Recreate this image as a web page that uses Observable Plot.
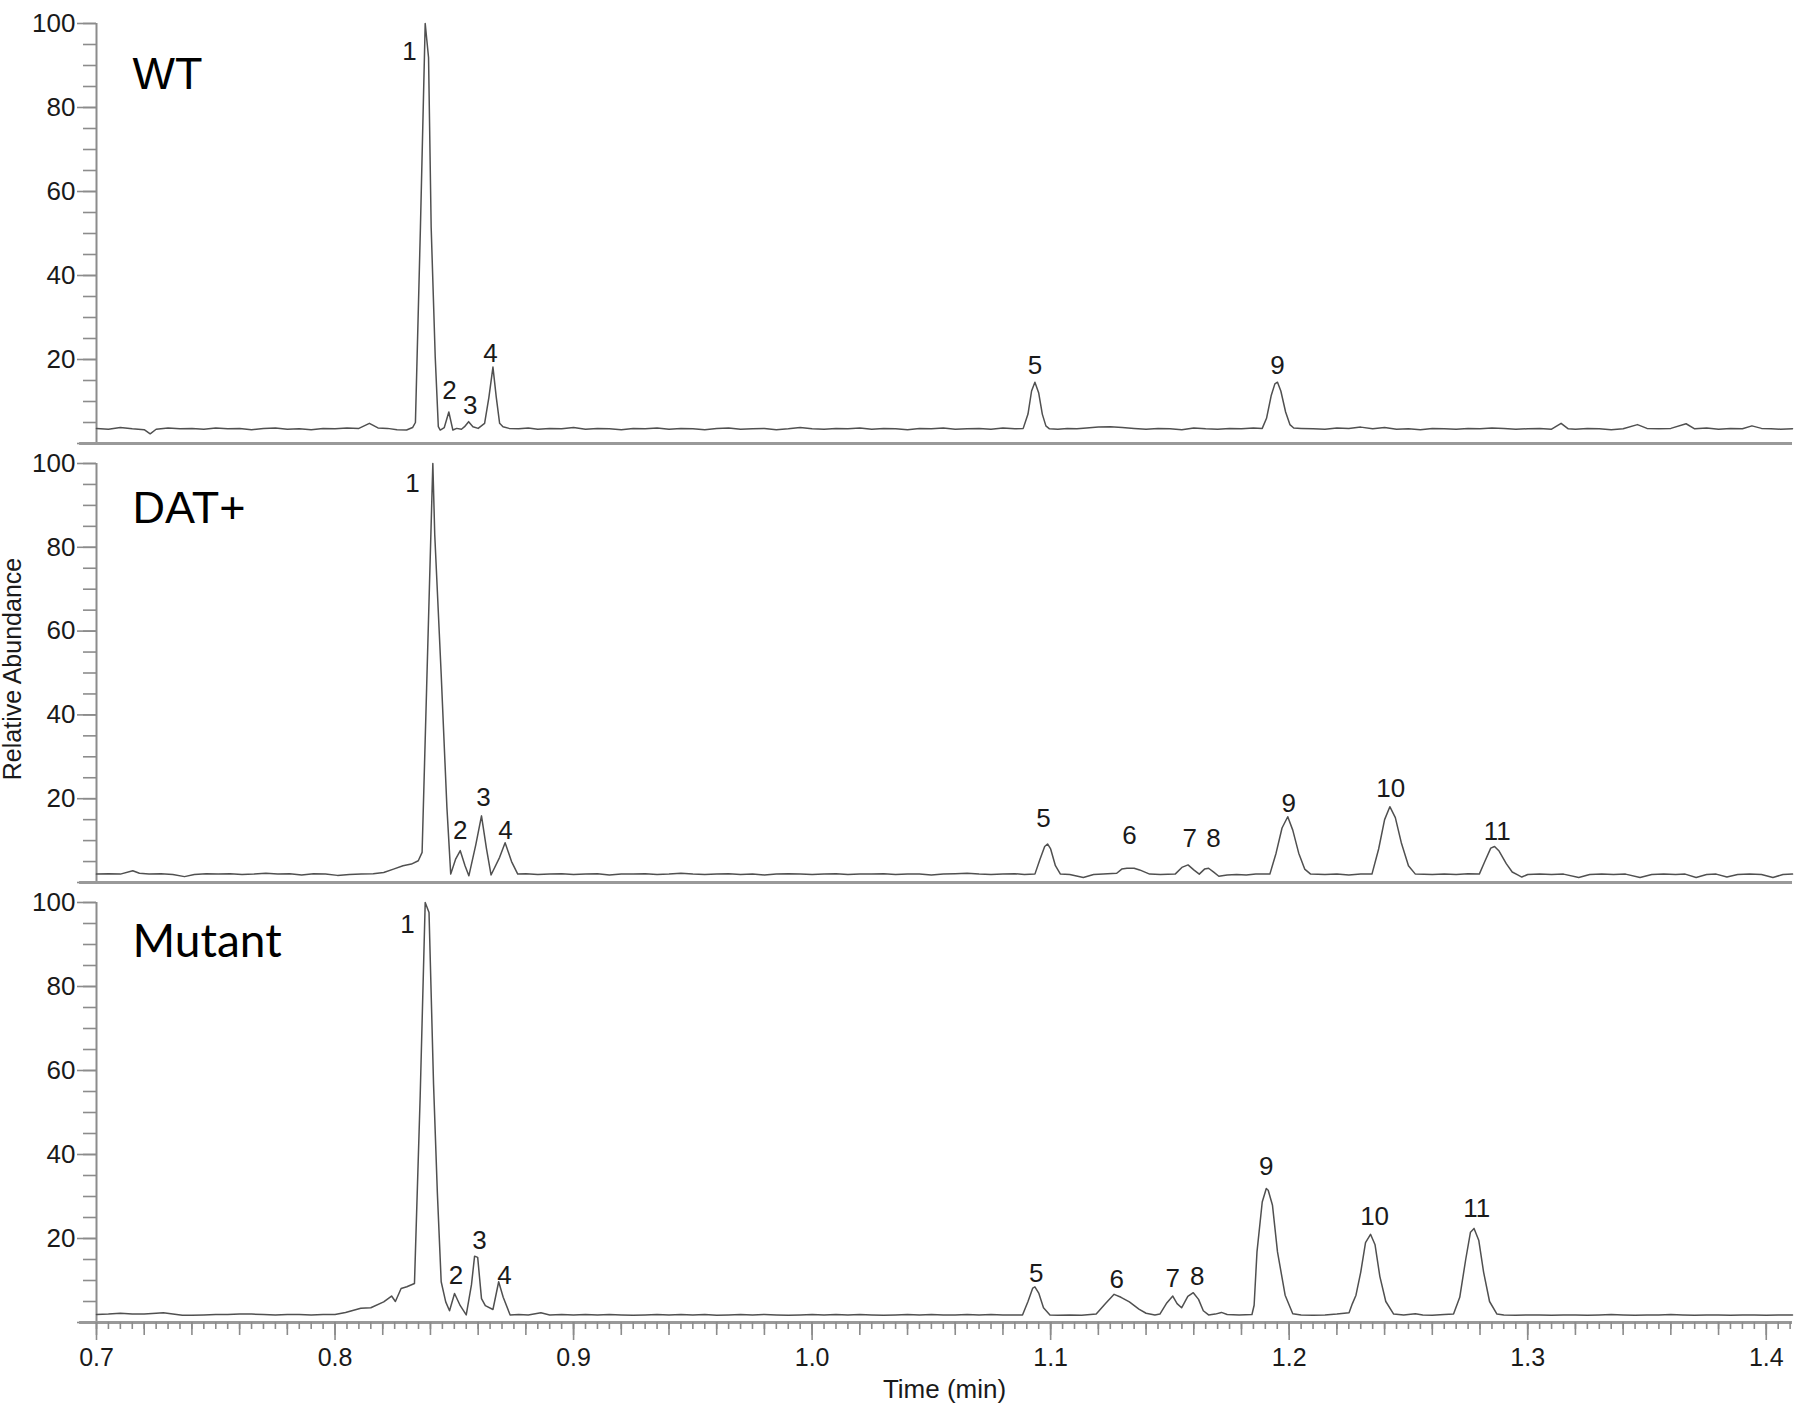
<!DOCTYPE html>
<html><head><meta charset="utf-8">
<script src="https://cdn.jsdelivr.net/npm/d3@7"></script>
<script src="https://cdn.jsdelivr.net/npm/@observablehq/plot@0.6"></script>
<style>
body{margin:0;background:#fff;}
#fig{position:relative;width:1800px;height:1413px;background:#fff;}
#fig svg{position:absolute;left:0;}
</style></head><body><div id="fig"></div>
<script>
// ---- Data: [time (min), relative abundance] ----
const wtTrace = [
[0.700,3.6],[0.705,3.4],[0.710,3.8],[0.715,3.5],[0.720,3.3],[0.7225,2.3],[0.725,3.4],[0.730,3.7],[0.735,3.5],[0.740,3.6],
[0.745,3.4],[0.750,3.7],[0.755,3.5],[0.760,3.6],[0.765,3.3],[0.770,3.6],[0.775,3.7],[0.780,3.4],[0.785,3.5],[0.790,3.3],
[0.795,3.6],[0.800,3.5],[0.805,3.7],[0.810,3.6],[0.8144,4.8],[0.818,3.7],[0.822,3.6],[0.826,3.3],[0.830,3.2],[0.8325,3.8],
[0.8337,5.0],[0.8358,51.5],[0.8378,100],[0.8392,91.9],[0.8403,51.5],[0.8420,20.6],[0.8433,4.0],[0.8441,3.2],[0.8458,3.8],
[0.8477,7.5],[0.8494,3.2],[0.8510,3.6],[0.8530,3.4],[0.8543,4.0],[0.8560,5.2],[0.8578,4.0],[0.8600,3.6],[0.8627,4.8],
[0.8645,11],[0.8662,18.2],[0.8676,11],[0.8690,4.8],[0.8704,4.0],[0.873,3.6],[0.877,3.5],[0.881,3.7],[0.885,3.4],[0.890,3.6],
[0.895,3.5],[0.900,3.8],[0.905,3.4],[0.910,3.6],[0.915,3.5],[0.920,3.3],[0.925,3.6],[0.930,3.5],[0.935,3.7],[0.940,3.4],
[0.945,3.6],[0.950,3.5],[0.955,3.3],[0.960,3.6],[0.965,3.7],[0.970,3.4],[0.975,3.5],[0.980,3.6],[0.985,3.3],[0.990,3.5],
[0.995,3.8],[1.000,3.5],[1.005,3.4],[1.010,3.6],[1.015,3.5],[1.020,3.7],[1.025,3.4],[1.030,3.6],[1.035,3.5],[1.040,3.3],
[1.045,3.6],[1.050,3.5],[1.055,3.7],[1.060,3.4],[1.065,3.5],[1.070,3.6],[1.075,3.4],[1.080,3.7],[1.085,3.5],[1.0885,3.6],
[1.0905,7],[1.0920,12.5],[1.0934,14.6],[1.0950,12],[1.0965,7],[1.0980,4.2],[1.0995,3.5],[1.103,3.4],[1.107,3.6],[1.111,3.5],
[1.115,3.7],[1.120,3.9],[1.125,4.0],[1.130,3.8],[1.135,3.6],[1.140,3.4],[1.145,3.6],[1.150,3.5],[1.155,3.3],[1.160,3.7],
[1.165,3.5],[1.170,3.4],[1.175,3.6],[1.180,3.5],[1.185,3.7],[1.1887,3.6],[1.1905,6],[1.1925,11.5],[1.1940,14.2],[1.1951,14.6],
[1.1965,12.5],[1.1985,7.5],[1.2003,4.5],[1.2019,3.7],[1.205,3.6],[1.210,3.5],[1.215,3.4],[1.220,3.7],[1.225,3.6],[1.230,3.9],
[1.235,3.5],[1.240,3.8],[1.245,3.4],[1.250,3.5],[1.255,3.3],[1.260,3.6],[1.265,3.5],[1.270,3.4],[1.275,3.6],[1.280,3.5],
[1.285,3.7],[1.290,3.6],[1.295,3.4],[1.300,3.5],[1.305,3.6],[1.310,3.4],[1.314,4.8],[1.317,3.5],[1.320,3.4],[1.325,3.6],
[1.330,3.5],[1.335,3.3],[1.340,3.5],[1.346,4.5],[1.350,3.6],[1.355,3.5],[1.360,3.6],[1.3664,4.7],[1.370,3.5],[1.375,3.7],
[1.380,3.4],[1.385,3.6],[1.390,3.5],[1.394,4.2],[1.398,3.6],[1.402,3.5],[1.406,3.4],[1.411,3.5]
];
const datTrace = [
[0.700,2.0],[0.705,2.1],[0.710,2.0],[0.7152,2.8],[0.718,2.2],[0.722,2.0],[0.727,2.1],[0.732,1.9],[0.7369,1.4],[0.741,1.9],
[0.746,2.1],[0.751,2.0],[0.756,2.1],[0.761,1.9],[0.766,2.0],[0.771,2.2],[0.776,2.0],[0.781,2.1],[0.786,1.8],[0.791,2.1],
[0.796,2.0],[0.801,1.7],[0.806,1.9],[0.811,2.0],[0.816,2.1],[0.8204,2.4],[0.8245,3.2],[0.8285,4.0],[0.832,4.4],[0.8349,5.2],
[0.8365,7.2],[0.8384,46.5],[0.8410,100],[0.8418,83],[0.8445,49.7],[0.8469,17.9],[0.8485,2.0],[0.8505,5.5],[0.8525,7.6],
[0.8545,4.0],[0.8561,1.6],[0.8590,9],[0.8614,15.9],[0.8635,8],[0.8654,1.8],[0.8690,6],[0.8713,9.5],[0.8740,5],[0.8766,2.0],
[0.880,2.1],[0.885,1.9],[0.890,2.0],[0.895,2.1],[0.900,1.9],[0.905,2.0],[0.910,2.1],[0.915,1.8],[0.920,2.0],[0.925,2.0],
[0.930,2.1],[0.935,1.9],[0.940,2.0],[0.945,2.2],[0.950,2.0],[0.955,1.9],[0.960,2.0],[0.965,2.1],[0.970,1.9],[0.975,2.0],
[0.980,1.8],[0.985,2.0],[0.990,2.1],[0.995,2.0],[1.000,1.9],[1.005,2.0],[1.010,2.1],[1.015,1.9],[1.020,2.0],[1.025,2.0],
[1.030,2.1],[1.035,1.9],[1.040,2.0],[1.045,2.0],[1.050,1.8],[1.055,2.0],[1.060,2.1],[1.065,2.2],[1.070,2.0],[1.075,1.9],
[1.080,2.0],[1.085,2.1],[1.089,1.9],[1.0934,2.0],[1.0955,5.5],[1.0975,8.6],[1.0987,9.2],[1.1000,8],[1.1020,4],[1.1041,2.0],
[1.108,1.9],[1.1137,1.2],[1.118,1.9],[1.122,2.0],[1.1277,2.2],[1.1298,3.2],[1.1320,3.4],[1.1350,3.4],[1.1373,3.0],[1.1415,2.0],
[1.146,1.9],[1.1522,2.0],[1.1550,3.6],[1.1576,4.2],[1.1600,3.0],[1.1623,2.0],[1.1645,3.2],[1.1662,3.4],[1.1685,2.4],[1.1705,1.5],
[1.174,1.8],[1.178,1.9],[1.182,1.8],[1.186,2.0],[1.1919,2.0],[1.1945,7],[1.1970,13],[1.1994,15.7],[1.2015,12.5],[1.2040,7],
[1.2065,3.2],[1.2090,2.0],[1.215,1.9],[1.220,2.0],[1.225,1.8],[1.230,2.0],[1.2347,2.0],[1.2375,8],[1.2400,15],[1.2422,18.1],
[1.2445,15.5],[1.2470,9.5],[1.2500,4],[1.2529,2.0],[1.260,1.9],[1.265,2.0],[1.270,1.9],[1.275,2.1],[1.2797,2.0],[1.2820,5],
[1.2845,8.2],[1.2861,8.6],[1.2880,7.5],[1.2910,4.5],[1.2935,2.5],[1.2958,1.8],[1.2975,1.3],[1.300,1.9],[1.305,2.0],[1.310,1.9],
[1.315,2.0],[1.3214,1.2],[1.326,1.9],[1.331,2.0],[1.336,1.9],[1.341,2.0],[1.3471,1.2],[1.352,1.9],[1.357,2.0],[1.362,1.9],
[1.366,2.0],[1.3706,1.2],[1.375,1.9],[1.379,2.0],[1.3835,1.3],[1.388,1.9],[1.393,2.0],[1.398,1.9],[1.4028,1.2],[1.407,1.9],[1.411,2.0]
];
const mutTrace = [
[0.700,1.9],[0.705,2.0],[0.710,2.2],[0.715,2.0],[0.720,2.0],[0.725,2.2],[0.728,2.3],[0.732,2.0],[0.736,1.7],[0.740,1.7],
[0.745,1.8],[0.750,1.9],[0.755,1.9],[0.760,2.0],[0.765,2.0],[0.770,1.9],[0.775,1.8],[0.780,1.9],[0.785,1.9],[0.790,1.8],
[0.795,1.9],[0.800,1.9],[0.8044,2.4],[0.8108,3.4],[0.815,3.5],[0.8204,4.9],[0.8237,6.3],[0.8253,5.0],[0.8277,8.1],[0.8301,8.5],
[0.8333,9.3],[0.8357,54],[0.8378,100],[0.8394,97.6],[0.8413,56.7],[0.8429,30.8],[0.8445,9.7],[0.8464,4.9],[0.8480,2.8],
[0.8501,6.9],[0.8525,4.0],[0.8550,1.8],[0.8572,9],[0.8585,15.8],[0.8598,15.5],[0.8614,5.7],[0.8630,4.0],[0.8662,3.1],
[0.8686,9.7],[0.8705,6],[0.8734,1.8],[0.877,1.9],[0.881,1.8],[0.8863,2.3],[0.890,1.8],[0.895,1.9],[0.900,1.8],[0.905,1.9],
[0.910,1.8],[0.915,1.9],[0.920,1.8],[0.925,1.7],[0.930,1.8],[0.935,1.9],[0.940,1.8],[0.945,1.9],[0.950,1.8],[0.955,1.9],
[0.960,1.7],[0.965,1.8],[0.970,1.9],[0.975,1.8],[0.980,1.9],[0.985,1.8],[0.990,1.7],[0.995,1.8],[1.000,1.9],[1.005,1.8],
[1.010,1.9],[1.015,1.8],[1.020,1.9],[1.025,1.8],[1.030,1.7],[1.035,1.8],[1.040,1.9],[1.045,1.8],[1.050,1.9],[1.055,1.8],
[1.060,1.8],[1.065,1.9],[1.070,1.8],[1.075,1.9],[1.080,1.8],[1.0882,1.8],[1.0905,5],[1.0925,8.2],[1.0934,8.5],[1.0950,7],
[1.0970,3.5],[1.0997,1.8],[1.103,1.7],[1.108,1.8],[1.113,1.7],[1.1191,2.0],[1.1230,4.5],[1.1266,6.7],[1.1295,6.0],[1.1330,4.9],
[1.1370,3.2],[1.1400,2.2],[1.1437,1.8],[1.1458,2.0],[1.1485,4.5],[1.1512,6.3],[1.1530,4.5],[1.1549,3.5],[1.1575,6.2],[1.1598,7.1],
[1.1620,5.5],[1.1640,2.8],[1.1662,1.8],[1.1690,2.0],[1.1716,2.4],[1.1740,1.9],[1.1790,1.8],[1.1844,1.9],[1.1853,4.1],[1.1865,16.8],
[1.1887,28.7],[1.1904,31.9],[1.1912,31.5],[1.1930,27.9],[1.1951,16.8],[1.1983,6.5],[1.2015,2.1],[1.205,1.8],[1.210,1.7],
[1.215,1.8],[1.220,2.0],[1.2251,2.3],[1.2265,4.5],[1.2280,6.5],[1.2300,12],[1.2320,19],[1.2341,21],[1.2360,18.5],[1.2380,11],
[1.2405,5],[1.2438,2.0],[1.2480,1.8],[1.2529,2.1],[1.2560,1.8],[1.260,1.7],[1.265,1.9],[1.2689,2.0],[1.2715,6],[1.2740,15],
[1.2760,21.5],[1.2775,22.4],[1.2795,19.5],[1.2815,12],[1.2840,5],[1.2871,2.0],[1.290,1.8],[1.295,1.7],[1.300,1.8],[1.305,1.8],
[1.310,1.7],[1.315,1.8],[1.320,1.8],[1.325,1.7],[1.330,1.8],[1.335,1.9],[1.340,1.8],[1.345,1.7],[1.350,1.8],[1.355,1.8],
[1.360,1.9],[1.365,1.8],[1.370,1.7],[1.375,1.8],[1.380,1.8],[1.385,1.7],[1.390,1.8],[1.395,1.8],[1.400,1.7],[1.405,1.8],[1.411,1.8]
];

// ---- Peak annotations: label, time, abundance of label centre ----
const wtPeaks = [
{label:"1",t:0.8312,v:93.2},{label:"2",t:0.8480,v:12.6},{label:"3",t:0.8567,v:9.0},{label:"4",t:0.8652,v:21.4},
{label:"5",t:1.0934,v:18.6},{label:"9",t:1.1951,v:18.6}
];
const datPeaks = [
{label:"1",t:0.8325,v:95.2},{label:"2",t:0.8525,v:12.4},{label:"3",t:0.8622,v:20.2},{label:"4",t:0.8715,v:12.4},
{label:"5",t:1.0970,v:15.2},{label:"6",t:1.1330,v:11.2},{label:"7",t:1.1583,v:10.4},{label:"8",t:1.1683,v:10.4},
{label:"9",t:1.1998,v:18.9},{label:"10",t:1.2426,v:22.4},{label:"11",t:1.2872,v:12.2}
];
const mutPeaks = [
{label:"1",t:0.8304,v:94.7},{label:"2",t:0.8507,v:11.2},{label:"3",t:0.8606,v:19.6},{label:"4",t:0.8710,v:11.2},
{label:"5",t:1.0940,v:11.7},{label:"6",t:1.1277,v:10.1},{label:"7",t:1.1512,v:10.5},{label:"8",t:1.1615,v:10.9},
{label:"9",t:1.1904,v:37.1},{label:"10",t:1.2358,v:25.2},{label:"11",t:1.2786,v:27.1}
];

const panelNames = ["WT","DAT+","Mutant"];
const yMajorTicks = [0,20,40,60,80,100];
const yMinorTicks = d3.range(0, 21).map(i => i * 5);
const xMajorTicks = [0.7,0.8,0.9,1.0,1.1,1.2,1.3,1.4];
const xMediumTicks = d3.range(35, 71).map(i => i / 50);
const xMinorTicks = d3.range(140, 283).map(i => i / 200);
const xDomain = [0.7, 1.411];
const yLabel = "Relative Abundance";
const xLabel = "Time (min)";

const FONT = "'Liberation Sans', Arial, Helvetica, sans-serif";
const axisGray = "#8c8c8c";
const textColor = "#1a1a1a";

function makePanel(cfg) {
  const marks = [
    Plot.axisY(yMinorTicks, {tickSize: 13, fill: "none", stroke: axisGray, strokeWidth: 1.6, label: null}),
    Plot.axisY(yMajorTicks, {tickSize: 19, tickPadding: 2, fontSize: 26, stroke: axisGray, strokeWidth: 1.6,
      fill: textColor, tickFormat: d => d === 0 ? "" : String(d), label: null}),
    Plot.ruleX([xDomain[0]], {y1: 0, y2: 100, stroke: axisGray, strokeWidth: 2}),
    Plot.ruleY([0], {x1: xDomain[0] - 0.0071, x2: xDomain[1], stroke: "#999", strokeWidth: 3.2, clip: false}),
    Plot.line(cfg.trace, {x: d => d[0], y: d => d[1], stroke: "#505050", strokeWidth: 1.5, strokeLinejoin: "round"}),
    Plot.text(cfg.peaks, {x: "t", y: "v", text: "label", fontSize: 26, fill: textColor, textAnchor: "middle", lineAnchor: "middle"}),
    Plot.text([cfg.name], {x: () => 0.7151, y: () => cfg.nameV, text: d => d, fontSize: cfg.nameSize,
      fontFamily: cfg.nameFont, fill: "#000", textAnchor: "start", lineAnchor: "bottom"})
  ];
  if (cfg.yTitle) {
    marks.push(Plot.text([yLabel], {frameAnchor: "left", text: d => d, rotate: -90, dx: -76, dy: -4,
      lineAnchor: "bottom", textAnchor: "middle", fontSize: 25, fill: textColor}));
  }
  if (cfg.xAxis) {
    marks.push(
      Plot.axisX(xMinorTicks, {anchor: "bottom", tickSize: 7, fill: "none", stroke: axisGray, strokeWidth: 1.6, label: null}),
      Plot.axisX(xMediumTicks, {anchor: "bottom", tickSize: 13, fill: "none", stroke: axisGray, strokeWidth: 1.6, label: null}),
      Plot.axisX(xMajorTicks, {anchor: "bottom", tickSize: 18, tickPadding: 8, fontSize: 25, stroke: axisGray, strokeWidth: 1.6,
        fill: textColor, tickFormat: d3.format(".1f"), label: null}),
      Plot.text([xLabel], {frameAnchor: "bottom", text: d => d, dy: 75, lineAnchor: "bottom", fontSize: 26, fill: textColor})
    );
  }
  const svg = Plot.plot({
    width: 1800, height: cfg.height,
    marginLeft: 96, marginRight: 8, marginTop: cfg.marginTop, marginBottom: cfg.marginBottom,
    x: {domain: xDomain, ...(cfg.xAxis ? {} : {axis: null})},
    y: {domain: [0, 100]},
    style: {fontFamily: FONT, background: "transparent", overflow: "visible"},
    marks
  });
  svg.style.top = cfg.top + "px";
  return svg;
}

const fig = document.getElementById("fig");
fig.appendChild(makePanel({trace: wtTrace, peaks: wtPeaks, name: panelNames[0], nameV: 84.5, nameSize: 45,
  nameFont: FONT, top: 0, height: 450, marginTop: 23, marginBottom: 7}));
fig.appendChild(makePanel({trace: datTrace, peaks: datPeaks, name: panelNames[1], nameV: 85.8, nameSize: 45,
  nameFont: FONT, top: 450, height: 440, marginTop: 13, marginBottom: 8, yTitle: true}));
fig.appendChild(makePanel({trace: mutTrace, peaks: mutPeaks, name: panelNames[2], nameV: 87.0, nameSize: 46,
  nameFont: "Lato, 'Open Sans', sans-serif", top: 890, height: 523, marginTop: 12, marginBottom: 91, xAxis: true}));
</script></body></html>
